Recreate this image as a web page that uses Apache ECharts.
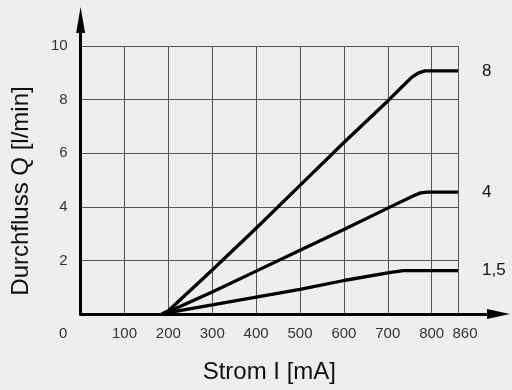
<!DOCTYPE html>
<html>
<head>
<meta charset="utf-8">
<script src="https://cdn.jsdelivr.net/npm/echarts@6/dist/echarts.min.js"></script>
<style>
	html, body { margin: 0; padding: 0; background: #eeeeee; }
	#main { width: 512px; height: 390px; }
</style>
</head>
<body>
<div id="main"></div>
<script>
	// Kennlinien: Strom [mA] -> Durchfluss [l/min]
	var names = ['8', '4', '1,5'];
	var curve8 = [[185, 0], [200, 0.12], [300, 1.64], [400, 3.2], [500, 4.8], [600, 6.4], [700, 7.95], [740, 8.6], [755, 8.84], [770, 9.0], [785, 9.07], [860, 9.07]];
	var curve4 = [[185, 0], [200, 0.08], [300, 0.82], [400, 1.6], [500, 2.38], [600, 3.15], [700, 3.95], [760, 4.42], [775, 4.52], [790, 4.55], [860, 4.55]];
	var curve15 = [[185, 0], [200, 0.05], [300, 0.34], [400, 0.63], [500, 0.92], [600, 1.25], [700, 1.53], [735, 1.62], [860, 1.62]];
	var xMax = 860;
	var yMax = 10;

	var font = '"Liberation Sans", Arial, sans-serif';
	var myChart = echarts.init(document.getElementById('main'));

	function lineSeries(name, data) {
		return {
			name: name,
			type: 'line',
			xAxisIndex: 0,
			yAxisIndex: 0,
			data: data,
			symbol: 'none',
			lineStyle: { color: '#000', width: 3.3, join: 'round' },
			endLabel: {
				show: true,
				formatter: name,
				distance: 24,
				fontFamily: font,
				fontSize: 17,
				color: '#111'
			},
			z: 3
		};
	}

	var option = {
		backgroundColor: '#eeeeee',
		animation: false,
		grid: [
			{ left: 80.6, right: 54, top: 46, bottom: 76 },
			// nur fuer die Achsen mit Pfeilen
			{ left: 80.6, right: 13.5, top: 20, bottom: 76 }
		],
		xAxis: [
			{
				type: 'value',
				gridIndex: 0,
				min: 0,
				max: xMax,
				interval: 100,
				name: 'Strom I [mA]',
				nameLocation: 'middle',
				nameGap: 46,
				nameTextStyle: { fontFamily: font, fontSize: 24, color: '#111' },
				axisLine: { show: false },
				axisTick: { show: false },
				axisLabel: {
					margin: 12,
					fontFamily: font,
					fontSize: 15,
					color: '#333',
					formatter: function (v) {
						if (v === 0) return '{zero|0}';
						if (v === xMax) return '{last|' + v + '}';
						return String(v);
					},
					rich: {
						zero: { fontFamily: font, fontSize: 15, color: '#333', padding: [0, 35, 0, 0] },
						last: { fontFamily: font, fontSize: 15, color: '#333', padding: [0, 0, 0, 14] }
					}
				},
				splitLine: { show: true, lineStyle: { color: '#555', width: 1 } }
			},
			{
				type: 'value',
				gridIndex: 1,
				min: 0,
				max: 1,
				axisLine: {
					show: true,
					symbol: ['none', 'triangle'],
					symbolSize: [10, 23],
					lineStyle: { color: '#000', width: 3 }
				},
				axisTick: { show: false },
				axisLabel: { show: false },
				splitLine: { show: false }
			}
		],
		yAxis: [
			{
				type: 'value',
				gridIndex: 0,
				min: 0,
				max: yMax,
				interval: 2,
				name: 'Durchfluss Q [l/min]',
				nameLocation: 'middle',
				nameGap: 47,
				nameTextStyle: { fontFamily: font, fontSize: 24, color: '#111', padding: [0, 22, 0, 0] },
				axisLine: { show: false },
				axisTick: { show: false },
				axisLabel: {
					margin: 13,
					fontFamily: font,
					fontSize: 15,
					color: '#333',
					formatter: function (v) {
						return v === 0 ? '' : String(v);
					}
				},
				splitLine: { show: true, lineStyle: { color: '#555', width: 1 } }
			},
			{
				type: 'value',
				gridIndex: 1,
				min: 0,
				max: 1,
				axisLine: {
					show: true,
					symbol: ['none', 'triangle'],
					symbolSize: [9, 26],
					lineStyle: { color: '#000', width: 3 }
				},
				axisTick: { show: false },
				axisLabel: { show: false },
				splitLine: { show: false }
			}
		],
		series: [
			lineSeries(names[0], curve8),
			lineSeries(names[1], curve4),
			lineSeries(names[2], curve15)
		]
	};

	myChart.setOption(option);
</script>
</body>
</html>
